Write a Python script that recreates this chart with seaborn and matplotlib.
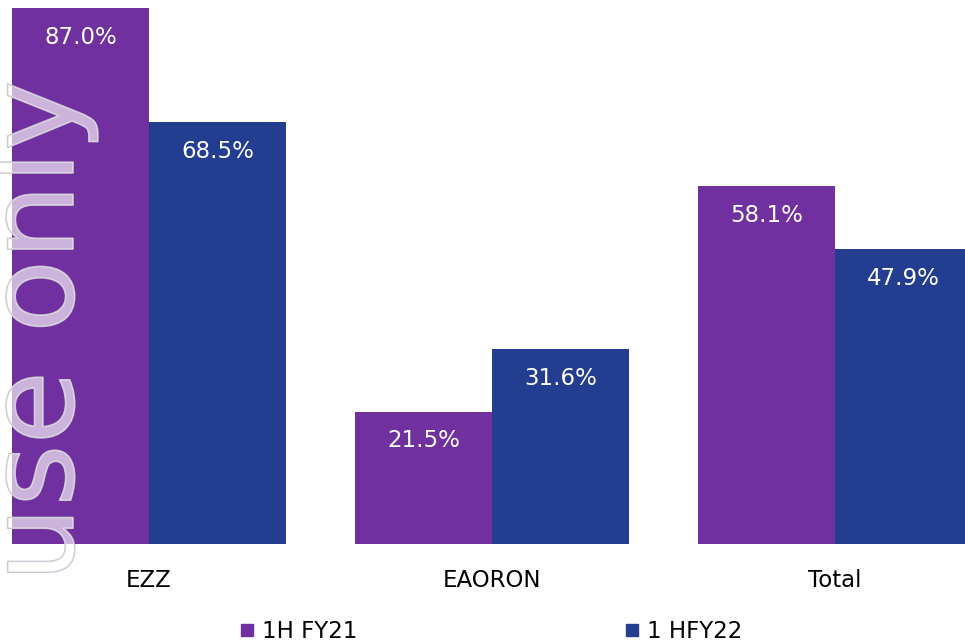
import pandas as pd
import matplotlib.pyplot as plt
import matplotlib.patheffects as pe
from matplotlib.lines import Line2D
import seaborn as sns

categories = ["EZZ", "EAORON", "Total"]
periods = ["1H FY21", "1 HFY22"]
fy21_values = [87.0, 21.5, 58.1]
fy22_values = [68.5, 31.6, 47.9]
colors = ["#7030A0", "#233E91"]

df = pd.DataFrame({
    "category": categories * 2,
    "period": [periods[0]] * 3 + [periods[1]] * 3,
    "value": fy21_values + fy22_values,
})

sns.set_theme(style="white")
plt.rcParams["font.family"] = ["DejaVu Sans"]

fig = plt.figure(figsize=(9.65, 6.43), dpi=100)
ax = fig.add_axes([0, 99 / 643, 1, 544 / 643])

sns.barplot(data=df, x="category", y="value", hue="period", palette=colors,
            width=0.8, gap=0, saturation=1, errorbar=None, legend=False,
            linewidth=0, ax=ax)

# value labels inside the bars, near the top
for cont in ax.containers:
    for bar in cont:
        h = bar.get_height()
        ax.annotate(f"{h:.1f}%", (bar.get_x() + bar.get_width() / 2, h),
                    xytext=(0, -21), textcoords="offset points",
                    ha="center", va="center", color="white", fontsize=16.5)

ax.set_xlim(-149 / 343, (965 - 149) / 343)
ax.set_ylim(0, 544 / 6.16)
ax.set_xlabel("")
ax.set_ylabel("")
ax.set_yticks([])
ax.tick_params(axis="x", length=0, pad=18, labelsize=16.5, colors="black")
sns.despine(ax=ax, left=True, bottom=True)

# watermark
fig.text(73 / 965, 1 - 80 / 643, "use only", rotation=90, rotation_mode="anchor",
         ha="right", va="baseline", fontsize=86, color=(1, 1, 1, 0.4), zorder=10,
         path_effects=[pe.Stroke(linewidth=1.2, foreground="#c9c2d0"), pe.Normal()])

handles = [Line2D([], [], marker="s", linestyle="", color=c, markersize=9) for c in colors]
fig.legend(handles, periods, loc="center left", bbox_to_anchor=(240 / 965, 11 / 643),
           ncol=2, frameon=False, fontsize=16.5, handlelength=0.6, handletextpad=0.35,
           columnspacing=11.7, borderaxespad=0, borderpad=0, labelcolor="black")

fig.savefig("out.png", dpi=100)
